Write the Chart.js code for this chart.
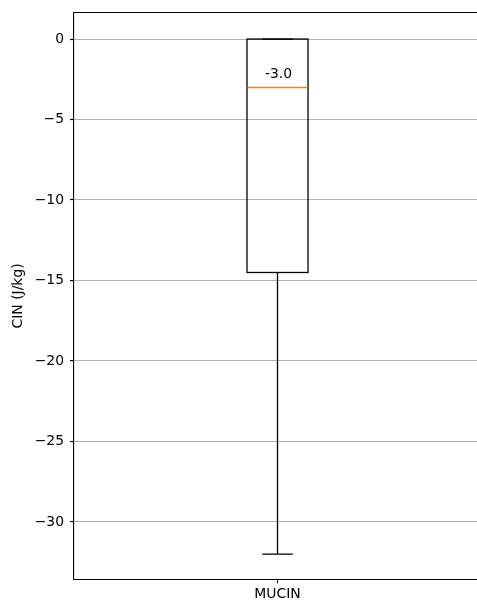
<!DOCTYPE html>
<html>
<head>
<meta charset="utf-8">
<script src="https://cdn.jsdelivr.net/npm/chart.js@4/dist/chart.umd.min.js"></script>
<style>
  html, body { margin: 0; padding: 0; background: #fff; }
  #wrap { width: 477px; height: 602px; }
</style>
</head>
<body>
<div id="wrap"><canvas id="box-chart" width="477" height="602"></canvas></div>
<script>
// ==================================== BOX DATA ============================
const categories = ['MUCIN'];
const positions = [1];
const whiskerHigh = [0];
const q3 = [0];
const medians = [-3.0];
const q1 = [-14.5];
const whiskerLow = [-32];
const yTicks = [0, -5, -10, -15, -20, -25, -30];

const FONT = "'DejaVu Sans', sans-serif";
const BOX_WIDTH = 0.15;

// draws the box, whiskers, caps, median and its label using the chart scales
const boxPlugin = {
    id: 'boxDraw',
    afterDatasetsDraw(chart) {
        const ctx = chart.ctx;
        const xs = chart.scales.x;
        const ys = chart.scales.y;
        const area = chart.chartArea;
        ctx.save();
        // top spine (right one is outside the picture)
        ctx.strokeStyle = '#000';
        ctx.lineWidth = 1.1;
        ctx.beginPath();
        ctx.moveTo(area.left, area.top);
        ctx.lineTo(area.right, area.top);
        ctx.stroke();

        for (let i = 0; i < positions.length; i++) {
            const xl = xs.getPixelForValue(positions[i] - BOX_WIDTH / 2);
            const xr = xs.getPixelForValue(positions[i] + BOX_WIDTH / 2);
            const xc = xs.getPixelForValue(positions[i]);
            const cl = xs.getPixelForValue(positions[i] - BOX_WIDTH / 4);
            const cr = xs.getPixelForValue(positions[i] + BOX_WIDTH / 4);
            const yQ1 = ys.getPixelForValue(q1[i]);
            const yQ3 = ys.getPixelForValue(q3[i]);
            const yLo = ys.getPixelForValue(whiskerLow[i]);
            const yHi = ys.getPixelForValue(whiskerHigh[i]);
            const yMed = ys.getPixelForValue(medians[i]);

            ctx.strokeStyle = '#000';
            ctx.lineWidth = 1.3;
            ctx.strokeRect(xl, yQ3, xr - xl, yQ1 - yQ3);
            ctx.beginPath();
            ctx.moveTo(xc, yQ1); ctx.lineTo(xc, yLo);
            ctx.moveTo(xc, yQ3); ctx.lineTo(xc, yHi);
            ctx.moveTo(cl, yLo); ctx.lineTo(cr, yLo);
            ctx.moveTo(cl, yHi); ctx.lineTo(cr, yHi);
            ctx.stroke();

            // median, snapped to the pixel row so the orange stays clean
            const yM = Math.round(yMed) + 0.5;
            ctx.strokeStyle = '#ff7f0e';
            ctx.lineWidth = 1.4;
            ctx.beginPath();
            ctx.moveTo(xl + 0.6, yM); ctx.lineTo(xr - 0.6, yM);
            ctx.stroke();

            ctx.fillStyle = '#000';
            ctx.font = '13.9px ' + FONT;
            ctx.textAlign = 'center';
            ctx.textBaseline = 'bottom';
            ctx.fillText(medians[i].toFixed(1), xc + 1, yMed - 6);
        }
        ctx.restore();
    }
};

const context = document.querySelector('#box-chart').getContext('2d');
const chartOptions = {
    responsive: false,
    animation: false,
    layout: { padding: { top: 12.5, left: 0, right: 0, bottom: 0 } },
    plugins: { legend: { display: false }, tooltip: { enabled: false } },
    scales: {
        x: {
            type: 'linear',
            min: 0.5,
            max: 0.5 + (477 - 74) / 407,
            afterBuildTicks: (scale) => { scale.ticks = positions.map(p => ({ value: p })); },
            afterFit: (scale) => {
                scale.height = 22.7;
                scale.paddingLeft = 0; scale.paddingRight = 0;
            },
            ticks: {
                color: '#000',
                padding: 3,
                font: { family: FONT, size: 13.9 },
                callback: (v) => categories[positions.indexOf(v)] || ''
            },
            grid: { drawOnChartArea: false, drawTicks: true, tickLength: 4, tickColor: '#000' },
            border: { display: true, color: '#000', width: 1.1 }
        },
        y: {
            type: 'linear',
            min: -33.56,
            max: 1.65,
            afterBuildTicks: (scale) => { scale.ticks = yTicks.map(v => ({ value: v })); },
            afterFit: (scale) => {
                scale.width = 74;
                scale.paddingTop = 0; scale.paddingBottom = 0;
            },
            ticks: {
                color: '#000',
                padding: 6,
                font: { family: FONT, size: 13.9 },
                callback: (v) => String(v).replace('-', '\u2212')
            },
            grid: { color: '#b0b0b0', lineWidth: 1.1, tickLength: 4, tickColor: '#000' },
            border: { display: true, color: '#000', width: 1.1 },
            title: {
                display: true,
                text: 'CIN (J/kg)',
                color: '#000',
                font: { family: FONT, size: 13.9 },
                padding: { top: 10, bottom: 0 }
            }
        }
    }
};
new Chart(context, {
    type: 'scatter',
    data: { datasets: [{ data: [] }] },
    options: chartOptions,
    plugins: [boxPlugin]
});
</script>
</body>
</html>
